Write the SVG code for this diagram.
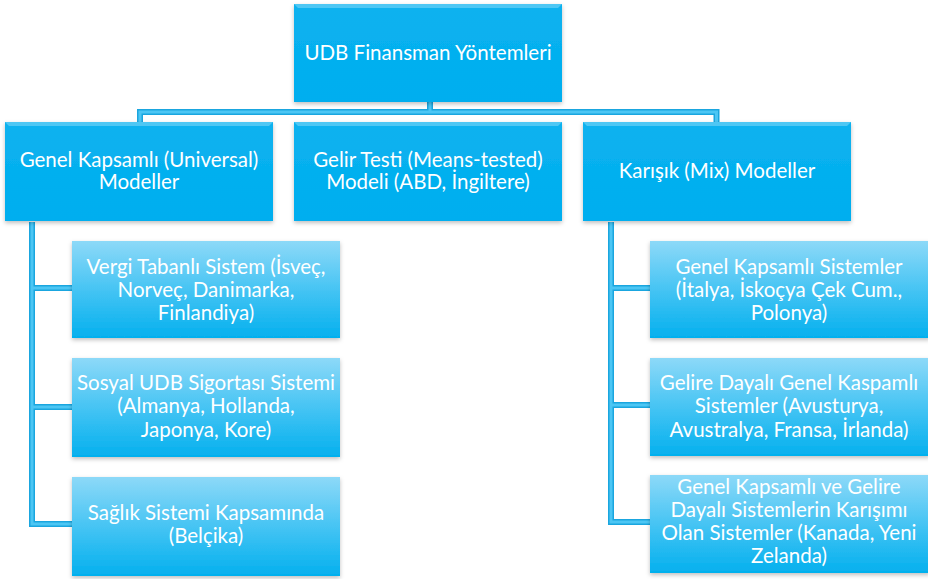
<svg xmlns="http://www.w3.org/2000/svg" width="928" height="579" viewBox="0 0 928 579">
<defs>
<filter id="sh" x="-5%" y="-5%" width="110%" height="115%">
<feDropShadow dx="0" dy="2" stdDeviation="2" flood-color="#000" flood-opacity="0.25"/>
</filter>
<linearGradient id="gTop" x1="0" y1="0" x2="0" y2="1">
<stop offset="0" stop-color="#0bb2ef"/>
<stop offset="1" stop-color="#00aeef"/>
</linearGradient>
<linearGradient id="gChild" x1="0" y1="0" x2="0" y2="1">
<stop offset="0" stop-color="#8dd9f8"/>
<stop offset="0.55" stop-color="#3fc2f3"/>
<stop offset="1" stop-color="#04b0ee"/>
</linearGradient>
</defs>
<style>
.box{fill:url(#gTop);filter:url(#sh);}
.cbox{fill:url(#gChild);filter:url(#sh);}
.bev{fill:#5fccf5;opacity:0.8;}
.t{font-family:"Lato","Liberation Sans",sans-serif;font-size:20.5px;fill:#ffffff;text-anchor:middle;}
.c{fill:none;stroke:#1aa6df;stroke-width:6;}
.ci{fill:none;stroke:#4cc6f4;stroke-width:3;}
</style>
<rect width="928" height="579" fill="#ffffff"/>
<g id="connectors">
<path class="c" d="M430 102V112M140 122V112H716.5V122M32 222V524H72M32 288H72M32 407H72M611 222V522H650M611 288H650M611 405H650"/>
<path class="ci" d="M430 102V112M140 122V112H716.5V122M32 222V524H72M32 288H72M32 407H72M611 222V522H650M611 288H650M611 405H650"/>
</g>
<g id="n0">
<rect class="box" x="294" y="4" width="268" height="98"/>
<path class="bev" d="M294 4H562L558 8H298Z"/>
<text class="t" x="428" y="60">UDB Finansman Yöntemleri</text>
</g>
<g id="n1">
<rect class="box" x="5" y="122" width="268" height="99"/>
<path class="bev" d="M5 122H273L269 126H9Z"/>
<text class="t" x="139" y="167">Genel Kapsamlı (Universal)</text>
<text class="t" x="139" y="189">Modeller</text>
</g>
<g id="n2">
<rect class="box" x="294" y="122" width="268" height="99"/>
<path class="bev" d="M294 122H562L558 126H298Z"/>
<text class="t" x="428" y="167">Gelir Testi (Means-tested)</text>
<text class="t" x="428" y="189">Modeli (ABD, İngiltere)</text>
</g>
<g id="n3">
<rect class="box" x="583" y="122" width="268" height="99"/>
<path class="bev" d="M583 122H851L847 126H587Z"/>
<text class="t" x="717" y="178">Karışık (Mix) Modeller</text>
</g>
<g id="n4">
<rect class="cbox" x="72" y="241" width="268" height="97"/>
<text class="t" x="206" y="274">Vergi Tabanlı Sistem (İsveç,</text>
<text class="t" x="206" y="297">Norveç, Danimarka,</text>
<text class="t" x="206" y="320">Finlandiya)</text>
</g>
<g id="n5">
<rect class="cbox" x="72" y="358" width="268" height="99"/>
<text class="t" x="206" y="390">Sosyal UDB Sigortası Sistemi</text>
<text class="t" x="206" y="413">(Almanya, Hollanda,</text>
<text class="t" x="206" y="437">Japonya, Kore)</text>
</g>
<g id="n6">
<rect class="cbox" x="72" y="477" width="268" height="99"/>
<text class="t" x="206" y="520">Sağlık Sistemi Kapsamında</text>
<text class="t" x="206" y="543">(Belçika)</text>
</g>
<g id="n7">
<rect class="cbox" x="650" y="241" width="280" height="97"/>
<text class="t" x="789" y="274">Genel Kapsamlı Sistemler</text>
<text class="t" x="789" y="297">(İtalya, İskoçya Çek Cum.,</text>
<text class="t" x="789" y="320">Polonya)</text>
</g>
<g id="n8">
<rect class="cbox" x="650" y="358" width="280" height="98"/>
<text class="t" x="789" y="390">Gelire Dayalı Genel Kaspamlı</text>
<text class="t" x="789" y="413">Sistemler (Avusturya,</text>
<text class="t" x="789" y="437">Avustralya, Fransa, İrlanda)</text>
</g>
<g id="n9">
<rect class="cbox" x="650" y="475" width="280" height="98"/>
<text class="t" x="789" y="494">Genel Kapsamlı ve Gelire</text>
<text class="t" x="789" y="517">Dayalı Sistemlerin Karışımı</text>
<text class="t" x="789" y="540">Olan Sistemler (Kanada, Yeni</text>
<text class="t" x="789" y="563">Zelanda)</text>
</g>
</svg>
